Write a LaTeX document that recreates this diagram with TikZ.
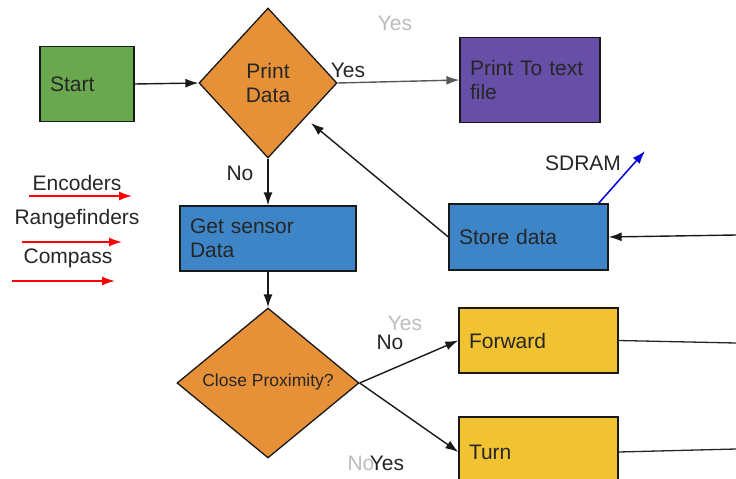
\documentclass[tikz,border=0pt]{standalone}
\usepackage{fontspec}
\setmainfont{Liberation Sans}
\usetikzlibrary{shapes.geometric,arrows.meta}
\definecolor{cgreen}{HTML}{6AA84F}
\definecolor{corange}{HTML}{E69138}
\definecolor{cpurple}{HTML}{674EA7}
\definecolor{cblue}{HTML}{3D85C6}
\definecolor{cyellow}{HTML}{F1C232}
\definecolor{ctext}{HTML}{262626}
\definecolor{cfaint}{HTML}{BDBDBD}
\begin{document}
\begin{tikzpicture}[x=1pt,y=-1pt,
  every node/.style={font=\fontsize{21}{24}\selectfont, text=ctext},
  boxnode/.style={draw=black!90, line width=1.3pt, rectangle, inner xsep=10pt, inner ysep=0pt, align=left},
  decision/.style={draw=black!90, line width=1.3pt, diamond, fill=corange, inner sep=0pt, align=center},
  conn/.style={draw=black!90, line width=1.4pt, -{Latex[length=13pt,width=9pt]}},
  plainline/.style={draw=black!85, line width=1.3pt},
  redarrow/.style={draw=red, line width=1.7pt, -{Latex[length=13pt,width=9pt]}},
  faint/.style={text=cfaint},
  lbl/.style={inner sep=0pt}
]
\useasboundingbox (0,0) rectangle (736,479);
\fill[white] (0,0) rectangle (736,479);

% nodes
\node[boxnode, fill=cgreen, minimum width=94pt, minimum height=75pt, text width=74pt] (start) at (87,84) {Start};
\node[decision, minimum width=138pt, minimum height=150pt] (print) at (268,83) {Print\\Data};
\node[boxnode, fill=cpurple, minimum width=140pt, minimum height=85pt, text width=120pt] (ptext) at (530,80) {Print To text\\file};
\node[boxnode, fill=cblue, minimum width=176pt, minimum height=65pt, text width=156pt] (sensor) at (268,238.5) {Get sensor\\Data};
\node[boxnode, fill=cblue, minimum width=159pt, minimum height=66pt, text width=139pt] (store) at (528.5,237) {Store data};
\node[decision, minimum width=182pt, minimum height=150pt, font=\fontsize{17.5}{20}\selectfont] (close) at (268,383) {\raisebox{5pt}{Close Proximity?}};
\node[boxnode, fill=cyellow, minimum width=159pt, minimum height=65pt, text width=139pt] (fwd) at (538.5,340.5) {Forward};
\node[boxnode, fill=cyellow, minimum width=159pt, minimum height=70pt, text width=139pt] (turn) at (538.5,452) {Turn};

% free ends
\coordinate (printin) at (311,123);
\coordinate (sdramfrom) at (598,204);
\coordinate (sdram) at (645,151);
\coordinate (rightin) at (736,235);
\coordinate (fwdout) at (736,343);
\coordinate (turnout) at (736,449);

% connectors
\draw[conn] (start.east) -- (print.west);
\draw[conn, draw=black!65] (print.east) -- (ptext.west);
\draw[conn] (print.south) -- (sensor.north);
\draw[conn] (sensor.south) -- (close.north);
\draw[conn] (store.west) -- (printin);
\draw[conn] (rightin) -- (store.east);
\draw[conn, draw=blue!85!black, line width=1.5pt] (sdramfrom) -- (sdram);
\draw[conn] (close.east) -- (fwd.west);
\draw[conn] (close.east) -- (turn.west);
\draw[plainline] (fwd.east) -- (fwdout);
\draw[plainline] (turn.east) -- (turnout);

% labels
\node[lbl] (yes1) at (348,70) {Yes};
\node[lbl] (no1) at (240,173) {No};
\node[lbl, faint] (yesg) at (395,23) {Yes};
\node[lbl] (sdramlbl) at (583,163) {SDRAM};
\node[lbl, faint] (yesg2) at (405,323) {Yes};
\node[lbl] (no2) at (390,342) {No};
\node[lbl, faint] (nog) at (361,463) {No};
\node[lbl] (yes3) at (387,463) {Yes};

% sensors
\node[lbl] (enc) at (77,183) {Encoders};
\coordinate (enca) at (29,196);
\coordinate (encb) at (132,196);
\draw[redarrow] (enca) -- (encb);
\node[lbl] (rng) at (77,219) {Rangefinders};
\coordinate (rnga) at (22,242);
\coordinate (rngb) at (122,242);
\draw[redarrow] (rnga) -- (rngb);
\node[lbl] (cmp) at (68,258) {Compass};
\coordinate (cmpa) at (12,281);
\coordinate (cmpb) at (115,281);
\draw[redarrow] (cmpa) -- (cmpb);
\end{tikzpicture}
\end{document}
